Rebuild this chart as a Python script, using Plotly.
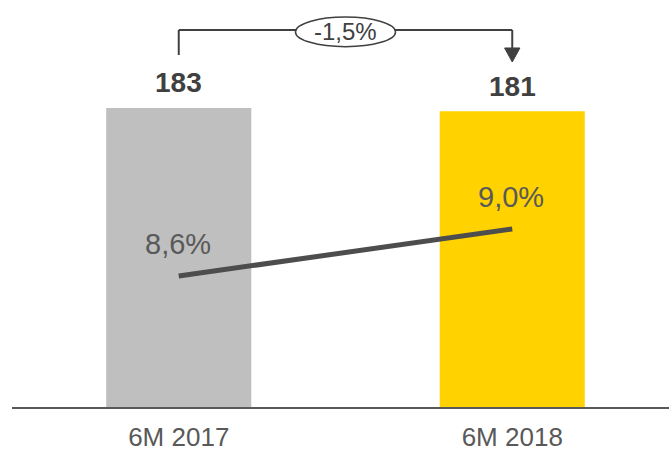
import plotly.graph_objects as go

# ===========================
# DATA
# ===========================

categories = ["6M 2017", "6M 2018"]
volumes = [183, 181]
volume_labels = ["183", "181"]
margins = [8.6, 9.0]
margin_labels = ["8,6%", "9,0%"]
change_label = "-1,5%"

bar_colors = ["#BFBFBF", "#FFD200"]
FONT = "Arial, Liberation Sans, sans-serif"
DARK = "#404040"
MID = "#595959"

xs = list(range(len(categories)))

fig = go.Figure()

fig.add_trace(go.Bar(
    x=xs, y=volumes, width=0.435,
    marker=dict(color=bar_colors, line=dict(width=0)),
    hoverinfo="skip", showlegend=False,
))

fig.add_trace(go.Scatter(
    x=xs, y=margins, yaxis="y2", mode="lines",
    line=dict(color="#4D4D4D", width=5),
    hoverinfo="skip", showlegend=False,
))

# value labels above bars
for x, v, t in zip(xs, volumes, volume_labels):
    fig.add_annotation(x=x, y=v, text=f"<b>{t}</b>", showarrow=False,
                       yanchor="middle", yshift=25,
                       font=dict(family=FONT, size=28, color=DARK))

# margin labels above line points
for x, v, t in zip(xs, margins, margin_labels):
    fig.add_annotation(x=x, y=v, yref="y2", text=t, showarrow=False,
                       yanchor="middle", yshift=32, xshift=-1,
                       font=dict(family=FONT, size=29, color=MID))

# ===========================
# bracket with change
# ===========================
top = 230.7
left_end = 215.4
arrow_base = 219.7
arrow_tip = 211.1
line_style = dict(color=DARK, width=2)

fig.add_shape(type="line", x0=0, x1=0, y0=left_end, y1=top, line=line_style)
fig.add_shape(type="line", x0=0, x1=1, y0=top, y1=top, line=line_style)
fig.add_shape(type="line", x0=1, x1=1, y0=top, y1=arrow_base, line=line_style)
fig.add_shape(type="path",
              path=f"M 0.977 {arrow_base} L 1.023 {arrow_base} L 1 {arrow_tip} Z",
              fillcolor=DARK, line=dict(color=DARK, width=1))
fig.add_shape(type="circle", x0=0.35, x1=0.65, y0=220.5, y1=238.6,
              fillcolor="white", line=dict(color=DARK, width=1.5))
fig.add_annotation(x=0.5, y=229.6, text=change_label, showarrow=False,
                   font=dict(family=FONT, size=24, color=DARK))

fig.update_layout(
    width=669, height=452,
    margin=dict(l=12, r=0, t=5, b=45),
    paper_bgcolor="white", plot_bgcolor="white",
    font=dict(family=FONT, color=MID),
    xaxis=dict(range=[-0.5, 1.47], tickvals=xs, ticktext=categories,
               showgrid=False, zeroline=False, showline=True,
               linecolor=MID, linewidth=2, ticks="outside", ticklen=6,
               tickcolor="rgba(0,0,0,0)", automargin=False,
               tickfont=dict(family=FONT, size=26, color=MID)),
    yaxis=dict(range=[0, 246], visible=False, showgrid=False),
    yaxis2=dict(range=[7.485, 10.906], overlaying="y", visible=False,
                showgrid=False),
)

fig.write_html("out.html", config={"displayModeBar": False},
               post_script="document.body.style.margin='0';"
                           "document.body.style.overflow='hidden';")
